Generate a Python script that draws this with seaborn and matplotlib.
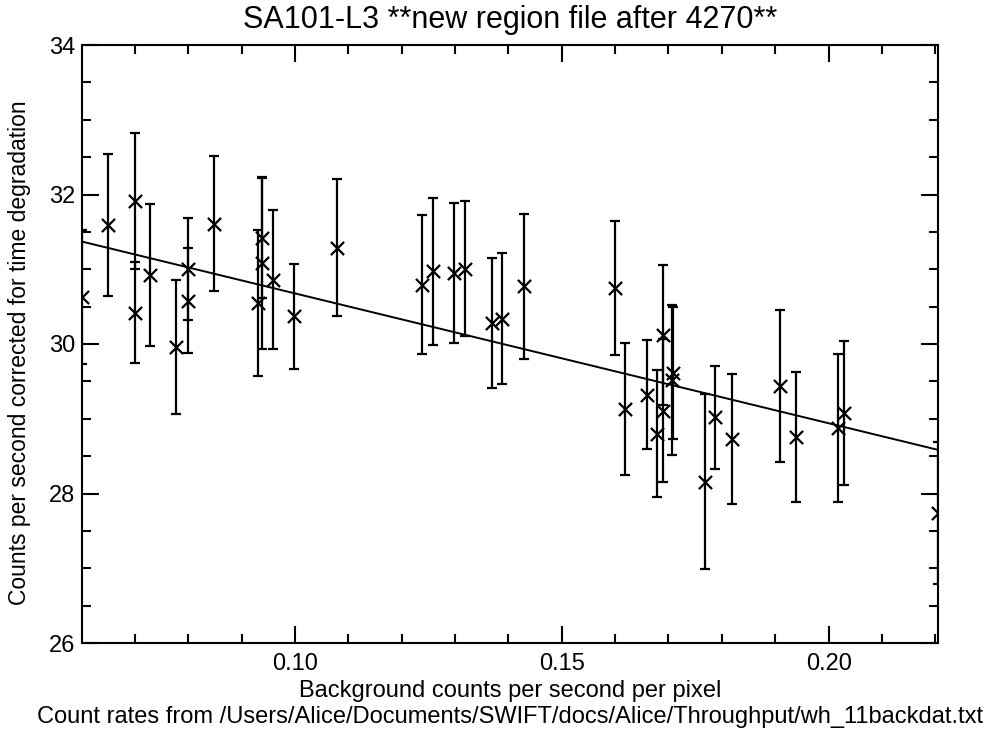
import numpy as np
import pandas as pd
import matplotlib
matplotlib.use('Agg')
import matplotlib.pyplot as plt
from matplotlib.ticker import MultipleLocator, FormatStrFormatter
import seaborn as sns

# background rate (counts/s/pixel)
bkg_rate = [0.0601, 0.0650, 0.0701, 0.0701, 0.0729, 0.0777, 0.0800, 0.0800,
            0.0848, 0.0930, 0.0939, 0.0939, 0.0958, 0.0999, 0.1079, 0.1239,
            0.1259, 0.1298, 0.1318, 0.1369, 0.1388, 0.1429, 0.1599, 0.1619,
            0.1659, 0.1679, 0.1689, 0.1689, 0.1706, 0.1708, 0.1769, 0.1788,
            0.1819, 0.1909, 0.1939, 0.2018, 0.2029, 0.2205]
# corrected count rate
count_rate = [30.63, 31.59, 31.91, 30.42, 30.92, 29.96, 31.00, 30.58,
              31.61, 30.55, 31.42, 31.08, 30.86, 30.37, 31.29, 30.79,
              30.97, 30.95, 31.01, 30.28, 30.34, 30.77, 30.75, 29.13,
              29.32, 28.80, 30.12, 29.11, 29.52, 29.61, 28.16, 29.02,
              28.73, 29.44, 28.75, 28.87, 29.08, 27.745]
count_err = [0.90, 0.95, 0.91, 0.68, 0.95, 0.90, 0.68, 0.70,
             0.90, 0.98, 0.80, 1.15, 0.93, 0.70, 0.92, 0.93,
             0.98, 0.93, 0.90, 0.87, 0.88, 0.97, 0.90, 0.88,
             0.73, 0.85, 0.94, 0.96, 1.00, 0.88, 1.17, 0.69,
             0.87, 1.02, 0.87, 0.99, 0.96, 0.95]

# straight line fit shown on the plot
fit_slope = -17.37
fit_intercept = 32.414

title = 'SA101-L3 **new region file after 4270**'
xlabel = 'Background counts per second per pixel'
source = 'Count rates from /Users/Alice/Documents/SWIFT/docs/Alice/Throughput/wh_11backdat.txt'
ylabel = 'Counts per second corrected for time degradation'

table = pd.DataFrame({'bkg': bkg_rate, 'rate': count_rate, 'err': count_err})

sns.set_theme(style='ticks')
plt.rcParams['font.family'] = ['Liberation Sans', 'DejaVu Sans']
plt.rcParams['text.color'] = 'black'
plt.rcParams['axes.labelcolor'] = 'black'

fig = plt.figure(figsize=(9.99, 7.34), dpi=100)
ax = fig.add_axes([82/999, 1 - 643/734, 856/999, 598/734])

ax.errorbar(table['bkg'], table['rate'], yerr=table['err'], fmt='none',
            ecolor='black', elinewidth=1.6, capsize=3.8, capthick=1.6)
sns.scatterplot(data=table, x='bkg', y='rate', marker='x', color='black',
                s=90, linewidth=1.6, ax=ax)

xfit = np.array([table['bkg'].min(), table['bkg'].max()])
sns.lineplot(x=xfit, y=fit_intercept + fit_slope * xfit, color='black',
             linewidth=1.4, ax=ax)

ax.set_xlim(xfit[0], xfit[1])
ax.set_ylim(26, 34)
ax.xaxis.set_major_locator(MultipleLocator(0.05))
ax.xaxis.set_minor_locator(MultipleLocator(0.01))
ax.xaxis.set_major_formatter(FormatStrFormatter('%.2f'))
ax.yaxis.set_major_locator(MultipleLocator(2))
ax.yaxis.set_minor_locator(MultipleLocator(0.5))

ax.tick_params(which='both', direction='in', top=True, right=True,
               width=1.5, labelsize=17, colors='black')
ax.tick_params(which='major', length=12.5)
ax.tick_params(which='minor', length=6.5)
ax.tick_params(axis='x', pad=7)
ax.tick_params(axis='y', pad=5)
for s in ax.spines.values():
    s.set_linewidth(1.5)
    s.set_color('black')

ax.set_title(title, fontsize=22, pad=12, color='black')
ax.set_xlabel(xlabel + '\n' + source, fontsize=17, labelpad=4, linespacing=1.2)
ax.set_ylabel('')
fig.text(20/999, 1 - 353/734, ylabel, rotation=90, ha='center', va='center',
         fontsize=16.5)

fig.savefig('out.png', dpi=100)
